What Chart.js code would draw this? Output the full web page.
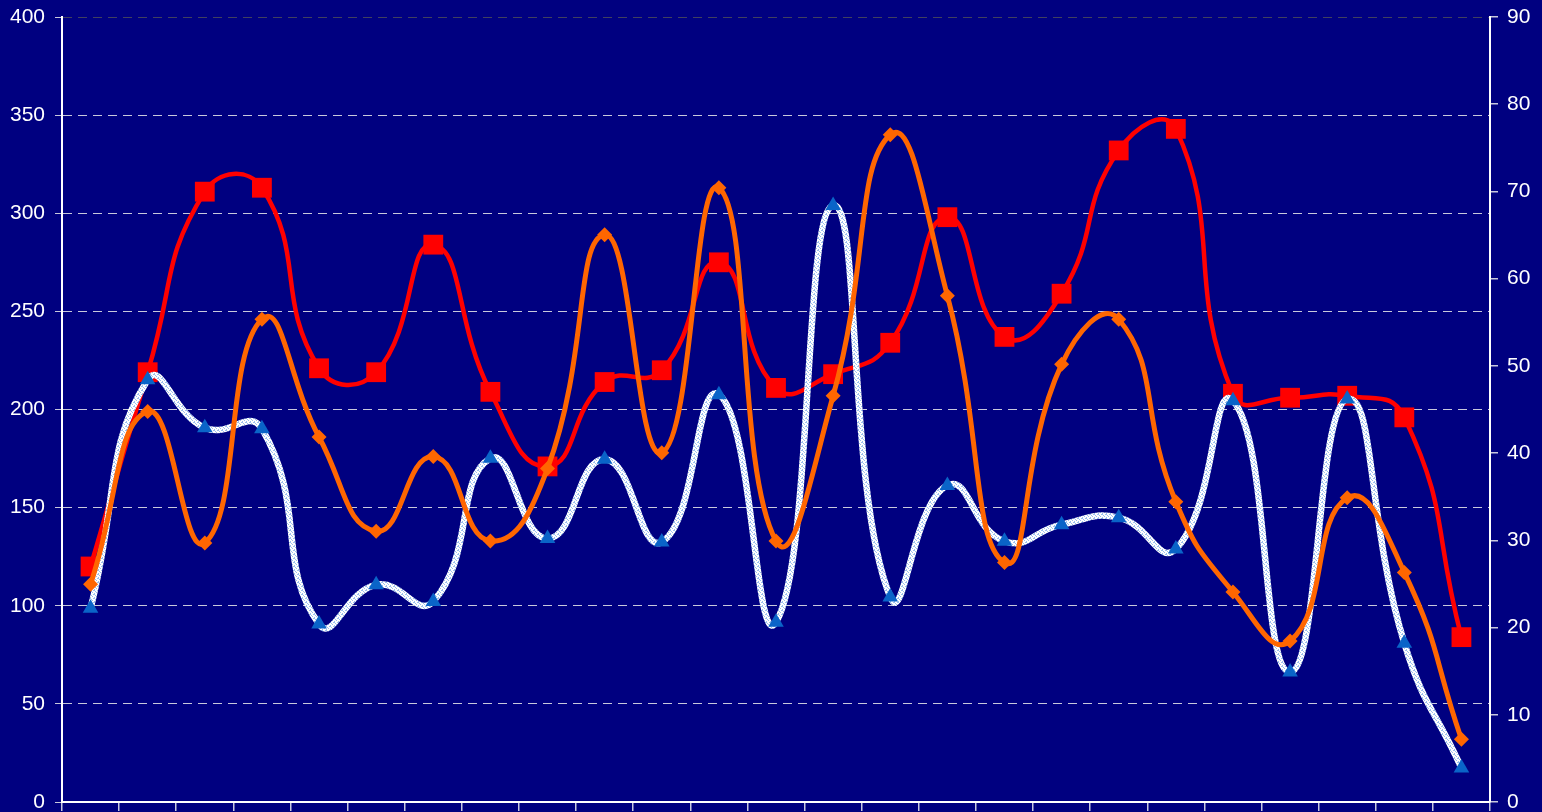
<!DOCTYPE html>
<html>
<head>
<meta charset="utf-8">
<script src="https://cdn.jsdelivr.net/npm/chart.js@4.4.0/dist/chart.umd.min.js"></script>
<style>
  html, body { margin: 0; padding: 0; background: #000080; }
  #wrap { width: 1542px; height: 812px; }
</style>
</head>
<body>
<div id="wrap"><canvas id="lineChart"></canvas></div>
<script>
// 25 unnamed categories along the x axis
const categories = ["1","2","3","4","5","6","7","8","9","10","11","12","13","14","15","16","17","18","19","20","21","22","23","24","25"];

// Left axis series
const redSquares = [120, 219, 311, 313, 221, 219, 284, 209, 171, 214, 220, 275, 211, 218, 234, 298, 237, 259, 332, 343, 208, 206, 207, 196, 84];
const orangeDiamonds = [111, 199, 132, 246, 186, 138, 176, 133, 170, 289, 178, 313, 133, 207, 340, 258, 122, 223, 246, 153, 107, 82, 155, 117, 32];

// Right axis series
const blueTriangles = [22.2, 48.4, 42.9, 42.8, 20.4, 24.9, 23.0, 39.4, 30.2, 39.3, 29.8, 46.7, 20.6, 68.4, 23.5, 36.3, 29.9, 31.8, 32.6, 29.0, 46.0, 14.9, 46.2, 18.2, 3.9];

const leftTicks = [0, 50, 100, 150, 200, 250, 300, 350, 400];
const rightTicks = [0, 10, 20, 30, 40, 50, 60, 70, 80, 90];

// speckled white/light-blue texture for the triangle line
function makePattern() {
    const c = document.createElement("canvas");
    c.width = 4;
    c.height = 4;
    const g = c.getContext("2d");
    g.fillStyle = "#ffffff";
    g.fillRect(0, 0, 4, 4);
    g.fillStyle = "#9cc0ee";
    g.fillRect(0, 0, 1, 1);
    g.fillRect(2, 1, 1, 1);
    g.fillRect(1, 2, 1, 1);
    g.fillRect(3, 3, 1, 1);
    g.fillRect(2, 2, 1, 1);
    return g.createPattern(c, "repeat");
}

// paint the navy background
const bgPlugin = {
    id: "bg",
    beforeDraw(chart) {
        const ctx = chart.ctx;
        ctx.save();
        ctx.fillStyle = "#000080";
        ctx.fillRect(0, 0, chart.width, chart.height);
        ctx.restore();
    }
};

const font = { family: "'Liberation Sans', Arial, sans-serif", size: 21 };

// fixed axis sizes, no extra label padding above/below the plot
function fixWidth(w) {
    return (s) => {
        s.width = w;
        s.paddingTop = 0;
        s.paddingBottom = 0;
    };
}

new Chart(document.getElementById("lineChart").getContext("2d"), {
    type: "line",
    data: {
        labels: categories,
        datasets: [
            {
                label: "Series 1",
                data: redSquares,
                yAxisID: "y",
                borderColor: "#ff0000",
                borderWidth: 4.5,
                pointStyle: "rect",
                pointRadius: 14,
                pointBackgroundColor: "#ff0000",
                pointBorderColor: "#ff0000",
                pointBorderWidth: 0,
                tension: 0.5,
                order: 3
            },
            {
                label: "Series 2",
                data: blueTriangles,
                yAxisID: "y2",
                borderColor: makePattern(),
                borderWidth: 6.5,
                pointStyle: "triangle",
                pointRadius: 9,
                pointBackgroundColor: "#0a64c8",
                pointBorderColor: "#0a64c8",
                pointBorderWidth: 0,
                tension: 0.5,
                order: 2
            },
            {
                label: "Series 3",
                data: orangeDiamonds,
                yAxisID: "y",
                borderColor: "#ff6600",
                borderWidth: 5,
                pointStyle: "rectRot",
                pointRadius: 7.5,
                pointBackgroundColor: "#ff6600",
                pointBorderColor: "#ff6600",
                pointBorderWidth: 0,
                tension: 0.5,
                order: 1
            }
        ]
    },
    options: {
        responsive: true,
        maintainAspectRatio: false,
        animation: false,
        layout: {
            autoPadding: false, // big markers would otherwise shrink the plot area
            padding: { top: 17, left: 0, right: 0, bottom: 0 }
        },
        plugins: {
            legend: { display: false },
            tooltip: { enabled: false }
        },
        scales: {
            x: {
                type: "category",
                offset: true,
                grid: {
                    offset: true,
                    drawOnChartArea: false,
                    drawTicks: true,
                    tickLength: 9,
                    color: "#c8c8e0",
                    lineWidth: 1.5
                },
                border: { color: "#ffffff", width: 2 },
                ticks: { callback: () => "" },
                afterFit: (s) => { s.height = 10; }
            },
            y: {
                position: "left",
                min: 0,
                max: 400,
                afterBuildTicks: (s) => { s.ticks = leftTicks.map(v => ({ value: v })); },
                ticks: { color: "#ffffff", font: font, padding: 10 },
                grid: {
                    color: (c) => c.tick && c.tick.value === 400 ? "#404060" : "#c8c8dc",
                    tickColor: "#c8c8dc",
                    lineWidth: 1,
                    tickLength: 7
                },
                border: { color: "#ffffff", width: 2, dash: [9, 6] },
                afterFit: fixWidth(62)
            },
            y2: {
                position: "right",
                min: 0,
                max: 90,
                afterBuildTicks: (s) => { s.ticks = rightTicks.map(v => ({ value: v })); },
                ticks: { color: "#ffffff", font: font, padding: 9 },
                grid: {
                    drawOnChartArea: false,
                    color: "#c8c8dc",
                    tickLength: 8,
                    lineWidth: 1.5
                },
                border: { color: "#ffffff", width: 2 },
                afterFit: fixWidth(52)
            }
        }
    },
    plugins: [bgPlugin]
});
</script>
</body>
</html>
